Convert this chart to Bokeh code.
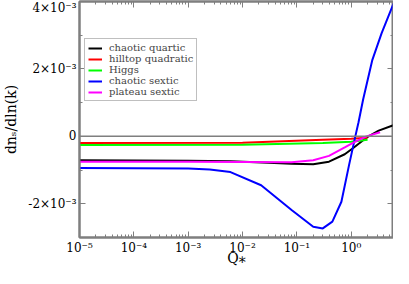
from bokeh.plotting import figure
from bokeh.models import (LogAxis, LinearAxis, FixedTicker, LogTicker, CustomJSTickFormatter,
                          Span, Legend, LegendItem)
from bokeh.embed import file_html
from bokeh.resources import INLINE

# ---- data (values in units of 1e-3 are scaled below) ----
q_quartic = [1e-5, 1e-3, 6e-3, 0.03, 0.08, 0.2, 0.39, 0.76, 1.12, 1.9, 3.2, 6.0]
v_quartic = [-0.71, -0.72, -0.74, -0.78, -0.81, -0.83, -0.75, -0.53, -0.33, -0.04, 0.17, 0.33]

q_hilltop = [1e-5, 1e-2, 0.3, 1.0, 2.0]
v_hilltop = [-0.20, -0.19, -0.10, -0.07, -0.04]

q_higgs = [1e-5, 1e-2, 0.3, 1.0, 2.0]
v_higgs = [-0.26, -0.25, -0.20, -0.16, -0.10]

q_sextic = [1e-5, 1e-3, 2.5e-3, 6e-3, 0.022, 0.081, 0.2, 0.3, 0.45, 0.66, 0.91, 1.19, 1.36,
            1.66, 2.45, 3.63, 6.0]
v_sextic = [-0.94, -0.95, -0.98, -1.06, -1.45, -2.19, -2.68, -2.73, -2.53, -1.94, -0.86, 0.0, 0.41,
            1.10, 2.27, 3.06, 3.94]

q_plateau = [1e-5, 1e-3, 0.01, 0.08, 0.2, 0.39, 0.76, 1.12, 1.9, 3.4]
v_plateau = [-0.75, -0.75, -0.76, -0.77, -0.71, -0.58, -0.33, -0.18, 0.0, 0.12]

scale = 1e-3
series = [
    ("chaotic quartic", q_quartic, v_quartic, "black"),
    ("hilltop quadratic", q_hilltop, v_hilltop, "#ff0000"),
    ("Higgs", q_higgs, v_higgs, "#00ff00"),
    ("chaotic sextic", q_sextic, v_sextic, "#0000ff"),
    ("plateau sextic", q_plateau, v_plateau, "#ff00ff"),
]

FONT = "DejaVu Serif"
GRAY = "#7f7f7f"

p = figure(width=393, height=268, x_axis_type="log", x_range=(1e-5, 6.0),
           y_range=(-3e-3, 4e-3), output_backend="svg", toolbar_location=None,
           min_border_left=59, min_border_right=0, min_border_top=1, min_border_bottom=0)
p.xgrid.visible = False
p.ygrid.visible = False
p.outline_line_color = GRAY
p.outline_line_width = 2

p.add_layout(Span(location=0, dimension="width", line_color=GRAY, line_width=1.5))

items = []
for name, q, v, c in series:
    r = p.line(q, [x * scale for x in v], line_color=c, line_width=2)
    items.append(LegendItem(label=name, renderers=[r]))

sup_code = """
const sup = {'-':'\u207b','0':'\u2070','1':'\u00b9','2':'\u00b2','3':'\u00b3','4':'\u2074','5':'\u2075','6':'\u2076','7':'\u2077','8':'\u2078','9':'\u2079'};
const e = Math.round(Math.log10(tick));
return '10' + String(e).split('').map(ch => sup[ch]).join('');
"""
y_code = """
if (Math.abs(tick) < 1e-12) return '0';
const m = Math.round(tick * 1000);
return String(m) + '\u00d710\u207b\u00b3';
"""

xt = LogTicker(num_minor_ticks=10)
yt = FixedTicker(ticks=[-2e-3, 0, 2e-3, 4e-3], minor_ticks=[-3e-3, -1e-3, 1e-3, 3e-3])

def style(ax):
    ax.axis_line_color = GRAY
    ax.axis_line_width = 2
    ax.major_tick_line_color = GRAY
    ax.minor_tick_line_color = GRAY
    ax.major_tick_in = 6
    ax.major_tick_out = 0
    ax.minor_tick_in = 3
    ax.minor_tick_out = 0
    ax.major_label_text_font = FONT
    ax.major_label_text_font_size = "12px"
    ax.major_label_text_color = "black"
    ax.major_label_text_line_height = 1.0
    ax.major_label_standoff = 3
    ax.axis_label_text_font = FONT
    ax.axis_label_text_font_style = "normal"
    ax.axis_label_text_font_size = "14px"
    ax.axis_label_text_line_height = 1.0
    ax.axis_label_text_color = "black"

xa = p.xaxis[0]
xa.ticker = xt
xa.formatter = CustomJSTickFormatter(code=sup_code)
xa.axis_label = "Q\u204e"
style(xa)
xa.axis_label_standoff = -8

ya = p.yaxis[0]
ya.ticker = yt
ya.formatter = CustomJSTickFormatter(code=y_code)
ya.axis_label = "dn\u209b/dln(k)"
style(ya)
ya.axis_label_standoff = 6

blank = CustomJSTickFormatter(code="return '';")
top = LogAxis(ticker=LogTicker(num_minor_ticks=10), formatter=blank)
style(top)
top.major_label_text_font_size = "0px"
top.major_label_standoff = 0
top.axis_label_standoff = 0
p.add_layout(top, "above")
right = LinearAxis(ticker=FixedTicker(ticks=[-2e-3, 0, 2e-3, 4e-3], minor_ticks=[-3e-3, -1e-3, 1e-3, 3e-3]),
                   formatter=blank)
style(right)
right.major_label_text_font_size = "0px"
right.major_label_standoff = 0
right.axis_label_standoff = 0
p.add_layout(right, "right")

legend = Legend(items=items, location=(5, 136))
legend.label_text_font = FONT
legend.label_text_font_size = "10px"
legend.label_height = 10
legend.glyph_height = 10
legend.glyph_width = 14
legend.spacing = 0
legend.padding = 3
legend.margin = 0
legend.label_standoff = 7
legend.border_line_color = GRAY
legend.border_line_width = 1.5
legend.background_fill_alpha = 1
p.add_layout(legend, "center")

open("out.html", "w").write(file_html(p, INLINE))
